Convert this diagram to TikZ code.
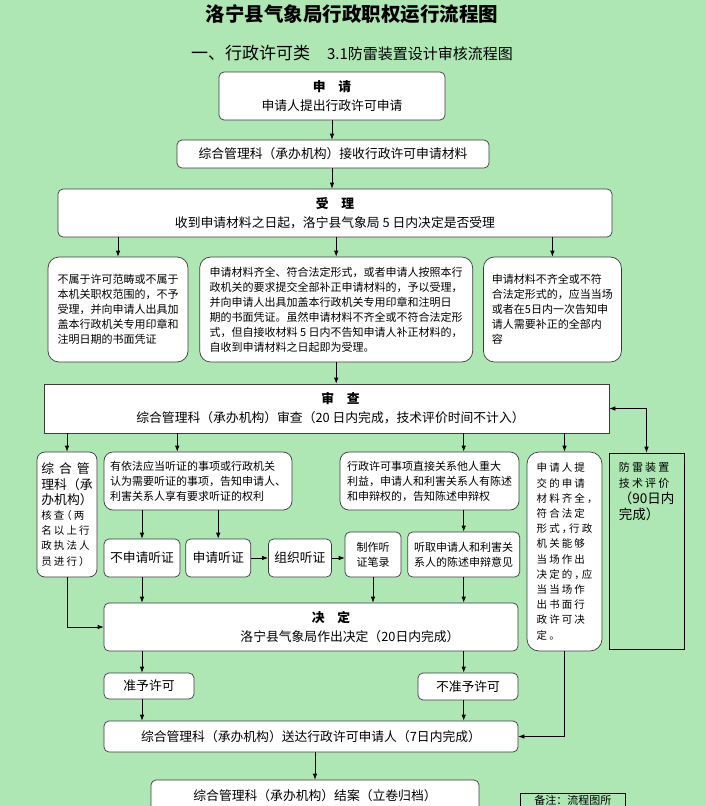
\documentclass[tikz,border=0pt]{standalone}
\usepackage{fontspec}
\setmainfont{Noto Sans CJK SC}
\newfontfamily\spacedfont[LetterSpace=20,CharacterWidth=AlternateHalf]{Noto Sans CJK SC}
\usetikzlibrary{arrows.meta,positioning,calc}
\definecolor{bggreen}{RGB}{174,230,180}
\definecolor{edgegray}{RGB}{60,60,60}
\newcommand\fsmain{\fontsize{12.8}{19}\selectfont}
\newcommand\fssmall{\fontsize{11}{15}\selectfont}
\newcommand\fsspaced{\spacedfont\fontsize{10.5}{15.2}\selectfont}

\begin{document}
\begin{tikzpicture}[x=1pt,y=-1pt,>={Latex[length=6pt,width=4.5pt]},
  box/.style={draw=edgegray,fill=white,line width=0.7pt,rounded corners=5pt,
    inner sep=2pt,align=center,font=\fsmain},
  softbox/.style={box,rounded corners=11pt,align=left,font=\fssmall},
  flatbox/.style={box,rounded corners=0pt},
  openbox/.style={draw=black,line width=0.7pt,inner sep=0pt}]
\useasboundingbox (0,0) rectangle (706,806);
\fill[bggreen] (0,0) rectangle (706,806);

% titles
\node[font=\fontsize{19.5}{22}\bfseries] (title) at (352,14) {洛宁县气象局行政职权运行流程图};
\node (subtitle) at (352,53) {{\fontsize{17}{20}\selectfont 一、行政许可类}\hspace{17pt}{\fontsize{15}{20}\selectfont 3.1防雷装置设计审核流程图}};

% main column
\node[box,minimum width=226pt,minimum height=48pt] (sq) at (332,96) {{\bfseries 申\hspace{1em}请}\\申请人提出行政许可申请};
\node[box,minimum width=312pt,minimum height=28pt] (js) at (333,154) {综合管理科（承办机构）接收行政许可申请材料};
\node[box,minimum width=554pt,minimum height=48pt] (sl) at (335,213) {{\bfseries 受\hspace{1em}理}\\收到申请材料之日起，洛宁县气象局 5 日内决定是否受理};

% acceptance outcomes
\node[softbox,minimum width=140pt,minimum height=105pt] (bsy) at (118,309.5) {不属于许可范畴或不属于\\本机关职权范围的，不予\\受理，并向申请人出具加\\盖本行政机关专用印章和\\注明日期的书面凭证};
\node[softbox,minimum width=273pt,minimum height=105pt,right=11pt of bsy] (qq) {申请材料齐全、符合法定形式，或者申请人按照本行\\政机关的要求提交全部补正申请材料的，予以受理，\\并向申请人出具加盖本行政机关专用印章和注明日\\期的书面凭证。虽然申请材料不齐全或不符合法定形\\式，但自接收材料 5 日内不告知申请人补正材料的，\\自收到申请材料之日起即为受理。};
\node[softbox,minimum width=138pt,minimum height=105pt,right=10pt of qq] (bqq) {申请材料不齐全或不符\\合法定形式的，应当当场\\或者在5日内一次告知申\\请人需要补正的全部内\\容};

\node[flatbox,minimum width=565pt,minimum height=49pt] (sc) at (326.5,408.5) {\hspace*{28pt}{\bfseries 审\hspace{1em}查}\\\hspace*{8pt}综合管理科（承办机构）审查（20 日内完成，技术评价时间不计入）};

% review branches
\node[box,rounded corners=8pt,align=left,font=\fsspaced,minimum width=60pt,minimum height=125pt] (zh) at (67,514.5) {{\rmfamily\fontsize{12.8}{15.2}\selectfont 综\hspace{5pt}合\hspace{5pt}管}\\{\rmfamily\fontsize{12.8}{15.2}\selectfont 理科（承}\\{\rmfamily\fontsize{12.8}{15.2}\selectfont 办机构）}\\核查（两\\名以上行\\政执法人\\员进行）};
\node[softbox,rounded corners=9pt,minimum width=188pt,minimum height=58pt] (yyf) at (198,481) {有依法应当听证的事项或行政机关\\认为需要听证的事项，告知申请人、\\利害关系人享有要求听证的权利};
\node[softbox,rounded corners=9pt,minimum width=179pt,minimum height=58pt] (xzxk) at (429.5,481) {行政许可事项直接关系他人重大\\利益，申请人和利害关系人有陈述\\和申辩权的，告知陈述申辩权};
\node[box,rounded corners=12pt,align=left,font=\fsspaced,minimum width=75pt,minimum height=199pt] (tj) at (564.5,551.5) {申请人提\\交的申请\\材料齐全，\\符合法定\\形式，行政\\机关能够\\当场作出\\决定的，应\\当当场作\\出书面行\\政许可决\\定。};
\node[openbox,minimum width=75pt,minimum height=196pt] (jspj) at (646.5,551) {};
\node[anchor=north west,inner sep=0pt,align=left,font=\spacedfont\fontsize{11}{16}\selectfont] (jspjtext) [below right=9pt and 10pt of jspj.north west] {防雷装置\\技术评价\\{\rmfamily\fontsize{13.5}{16}\selectfont （90日内}\\{\rmfamily\fontsize{13.5}{16}\selectfont 完成）}};

% hearing row
\node[box,minimum width=76pt,minimum height=38pt] (bsq) at (142,558) {不申请听证};
\node[box,minimum width=65pt,minimum height=38pt,right=5pt of bsq] (sqtz) {申请听证};
\node[box,minimum width=63pt,minimum height=38pt,right=17pt of sqtz] (zztz) {组织听证};
\node[box,font=\fssmall,minimum width=56pt,minimum height=45pt] (zzbl) at (373,554.5) {制作听\\证笔录};
\node[box,font=\fssmall,minimum width=112pt,minimum height=45pt,right=6pt of zzbl] (tq) {听取申请人和利害关\\系人的陈述申辩意见};

% decision and closing
\node[box,minimum width=414pt,minimum height=48pt] (jd) at (311,627) {\hspace*{40pt}{\bfseries 决\hspace{1em}定}\\\hspace*{78pt}洛宁县气象局作出决定（20日内完成）};
\node[box,minimum width=90pt,minimum height=26pt] (zy) at (149,686) {准予许可};
\node[box,minimum width=100pt,minimum height=27pt] (bzy) at (468,686.5) {不准予许可};
\node[box,minimum width=414pt,minimum height=31pt] (sd) at (311,736.5) {综合管理科（承办机构）送达行政许可申请人（7日内完成）};
\node[box,minimum width=328pt,minimum height=32pt] (ja) at (315,796) {综合管理科（承办机构）结案（立卷归档）};
\node[openbox,anchor=north west,inner xsep=9pt,inner ysep=2pt,minimum width=105pt,align=left,font=\fontsize{11}{14}\selectfont] (bz) at (520,793) {备注：流程图所};

\coordinate (yyfin) at ($(yyf.north west)!0.39!(yyf.north east)$);

\path[->,line width=0.7pt]
(sq.south) edge (sq.south |- js.north)
(js.south -| sq.south) edge (sq.south |- sl.north)
(bsy.north |- sl.south) edge (bsy.north)
(qq.north |- sl.south) edge (qq.north)
(bqq.north |- sl.south) edge (bqq.north)
(qq.south) edge (qq.south |- sc.north)
(zh.north |- sc.south) edge (zh.north)
(yyfin |- sc.south) edge (yyfin)
(tq.north |- sc.south) edge (tq.north |- xzxk.north)
(tj.north |- sc.south) edge (tj.north)
(bsq.north |- yyf.south) edge (bsq.north)
(sqtz.north |- yyf.south) edge (sqtz.north)
(sqtz.east) edge (zztz.west)
(zztz.east) edge (zztz.east -| zzbl.west)
(tq.north |- xzxk.south) edge (tq.north)
(bsq.south) edge (bsq.south |- jd.north)
(zzbl.south) edge (zzbl.south |- jd.north)
(tq.south) edge (tq.south |- jd.north)
(bsq.south |- jd.south) edge (bsq.south |- zy.north)
(tq.south |- jd.south) edge (tq.south |- bzy.north)
(bsq.south |- zy.south) edge (bsq.south |- sd.north)
(tq.south |- bzy.south) edge (tq.south |- sd.north)
(ja.north |- sd.south) edge (ja.north);
\draw[->,line width=0.7pt] (zh.south) |- (jd.west);
\draw[->,line width=0.7pt] (tj.south) |- (sd.east);
\draw[<->,line width=0.7pt] (sc.east) -| (jspj.north);
\end{tikzpicture}
\end{document}
